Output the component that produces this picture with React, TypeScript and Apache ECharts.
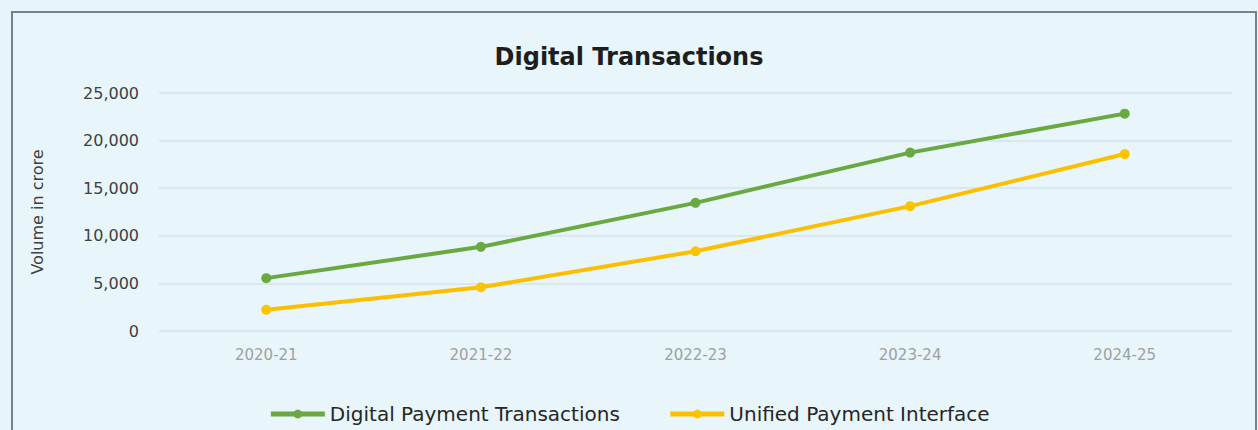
import React, { useEffect, useRef } from "react";
import * as echarts from "echarts";

const categories = ["2020-21", "2021-22", "2022-23", "2023-24", "2024-25"];
const digitalPayments = [5554, 8839, 13462, 18737, 22831];
const upi = [2233, 4597, 8375, 13116, 18587];
const yTicks = [0, 5000, 10000, 15000, 20000, 25000];

const FONT = "'DejaVu Sans', 'Noto Sans', sans-serif";

export default function App() {
  const ref = useRef<HTMLDivElement>(null);
  useEffect(() => {
    if (!ref.current) return;
    const chart = echarts.init(ref.current, undefined, { renderer: "svg" });
    chart.setOption({
      animation: false,
      backgroundColor: "#e7f4f9",
      graphic: [
        {
          type: "rect",
          shape: { x: 12, y: 12, width: 1244, height: 430 },
          style: { fill: "#e8f5fa", stroke: "#7a8088", lineWidth: 2 },
          z: -10,
        },
      ],
      title: {
        text: "Digital Transactions",
        left: "center",
        top: 40,
        textStyle: { fontFamily: FONT, fontSize: 24, fontWeight: "bold", color: "#1e1e1e" },
      },
      legend: {
        bottom: 1,
        left: "center",
        itemGap: 48,
        itemWidth: 54,
        itemHeight: 11,
        lineStyle: { width: 5 },
        textStyle: { fontFamily: FONT, fontSize: 20, color: "#262626" },
        data: ["Digital Payment Transactions", "Unified Payment Interface"],
      },
      grid: { left: 159, right: 26, top: 93, bottom: 99, containLabel: false },
      xAxis: {
        type: "category",
        data: categories,
        boundaryGap: true,
        axisLine: { show: false },
        axisTick: { show: false },
        axisLabel: { fontFamily: FONT, fontSize: 15, color: "#a0a0a0", margin: 16 },
      },
      yAxis: {
        type: "value",
        min: yTicks[0],
        max: yTicks[yTicks.length - 1],
        interval: 5000,
        name: "Volume in crore",
        nameLocation: "middle",
        nameGap: 114,
        nameTextStyle: { fontFamily: FONT, fontSize: 16, color: "#404040" },
        axisLine: { show: false },
        axisTick: { show: false },
        splitLine: { lineStyle: { color: "#d5e3ea", width: 1.5 } },
        axisLabel: {
          fontFamily: FONT,
          fontSize: 16,
          color: "#404040",
          margin: 20,
          formatter: (v: number) => v.toLocaleString("en-US"),
        },
      },
      series: [
        {
          name: "Digital Payment Transactions",
          type: "line",
          data: digitalPayments,
          symbol: "circle",
          symbolSize: 10,
          lineStyle: { color: "#6aa842", width: 4 },
          itemStyle: { color: "#6aa842" },
        },
        {
          name: "Unified Payment Interface",
          type: "line",
          data: upi,
          symbol: "circle",
          symbolSize: 10,
          lineStyle: { color: "#fcbf00", width: 4 },
          itemStyle: { color: "#fcc400" },
        },
      ],
    });
    return () => chart.dispose();
  }, []);
  return (
    <div
      ref={ref}
      style={{ position: "fixed", left: 0, top: 0, width: 1258, height: 430 }}
    />
  );
}
